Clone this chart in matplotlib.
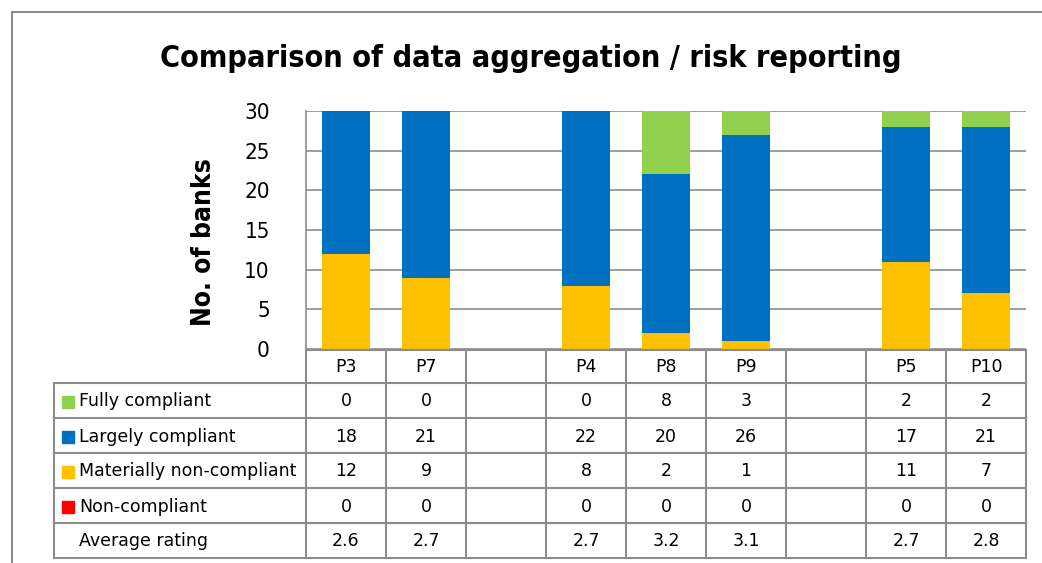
import numpy as np
import matplotlib.pyplot as plt
from matplotlib.lines import Line2D
from matplotlib.patches import Rectangle

# chart data (blank columns separate the groups)
categories = ["P3", "P7", "", "P4", "P8", "P9", "", "P5", "P10"]
fully = [0, 0, None, 0, 8, 3, None, 2, 2]
largely = [18, 21, None, 22, 20, 26, None, 17, 21]
materially = [12, 9, None, 8, 2, 1, None, 11, 7]
non_compliant = [0, 0, None, 0, 0, 0, None, 0, 0]
avg_rating = ["2.6", "2.7", "", "2.7", "3.2", "3.1", "", "2.7", "2.8"]

series_names = ["Fully compliant", "Largely compliant",
                "Materially non-compliant", "Non-compliant"]
colors = {"Fully compliant": "#92D050", "Largely compliant": "#0070C0",
          "Materially non-compliant": "#FFC000", "Non-compliant": "#FF0000"}

narrow = dict(family="DejaVu Sans", stretch="condensed")
grid_c = "#8c8c8c"

W, H = 1042, 563
fig = plt.figure(figsize=(W / 100, H / 100), dpi=100)


def fx(px):
    return px / W


def fy(py):
    return 1 - py / H


# outer chart frame
fig.add_artist(Line2D([fx(12), 1], [fy(12), fy(12)], color=grid_c, lw=1.5))
fig.add_artist(Line2D([fx(12), fx(12)], [fy(12), 0], color=grid_c, lw=1.5))

# plot area
x0, x1, ytop, ybot = 306, 1026, 111, 349
ax = fig.add_axes([fx(x0), fy(ybot), fx(x1 - x0), (ybot - ytop) / H])

vals = {
    "Non-compliant": non_compliant,
    "Materially non-compliant": materially,
    "Largely compliant": largely,
    "Fully compliant": fully,
}
xs = np.arange(len(categories))
bottom = np.zeros(len(categories))
for name in ["Non-compliant", "Materially non-compliant", "Largely compliant", "Fully compliant"]:
    v = np.array([np.nan if a is None else a for a in vals[name]], dtype=float)
    ax.bar(xs, np.nan_to_num(v), width=0.6, bottom=bottom, color=colors[name], zorder=2)
    bottom += np.nan_to_num(v)

ax.set_xlim(-0.5, len(categories) - 0.5)
ax.set_ylim(0, 30)
ax.set_yticks(range(0, 31, 5))
ax.yaxis.grid(True, color=grid_c, lw=1.2)
ax.set_axisbelow(True)
ax.tick_params(axis="y", length=0, pad=26, labelsize=16)
for lab in ax.get_yticklabels():
    lab.set_family(narrow["family"])
    lab.set_stretch(narrow["stretch"])
ax.set_xticks([])
for s in ["top", "right", "bottom"]:
    ax.spines[s].set_visible(False)
ax.spines["left"].set_color(grid_c)
ax.spines["left"].set_linewidth(1.2)

fig.text(fx(531), fy(67), "Comparison of data aggregation / risk reporting",
         ha="center", va="baseline", fontsize=22, fontweight="bold", **narrow)
fig.text(fx(204), fy(242), "No. of banks", rotation=90, ha="center", va="center",
         fontsize=19, fontweight="bold", **narrow)

# data table below the plot
tab = fig.add_axes([0, 0, 1, 1], facecolor="none")
tab.set_xlim(0, W)
tab.set_ylim(H, 0)
tab.axis("off")

col_w = (x1 - x0) / len(categories)
left = 54
row_edges = [383, 418, 453, 488, 523, 558]
lc = dict(color=grid_c, lw=1.5)

# header row (category names)
tab.plot([x0, x1], [ybot + 1, ybot + 1], **lc)
for i in range(len(categories) + 1):
    xe = x0 + i * col_w
    tab.plot([xe, xe], [ybot + 1, row_edges[-1]], **lc)
for i, c in enumerate(categories):
    tab.text(x0 + (i + 0.5) * col_w, (ybot + row_edges[0]) / 2 + 1, c,
             ha="center", va="center", fontsize=12.5)

for ye in row_edges:
    tab.plot([left, x1], [ye, ye], **lc)
tab.plot([left, left], [row_edges[0], row_edges[-1]], **lc)

row_labels = series_names + ["Average rating"]
row_vals = [fully, largely, materially, non_compliant, avg_rating]
for r, (lab, rv) in enumerate(zip(row_labels, row_vals)):
    yc = (row_edges[r] + row_edges[r + 1]) / 2 + 1
    if lab in colors:
        tab.add_patch(Rectangle((62, yc - 6), 12, 12, color=colors[lab]))
    tab.text(79, yc, lab, ha="left", va="center", fontsize=12.5)
    for i, v in enumerate(rv):
        txt = "" if v is None else str(v)
        tab.text(x0 + (i + 0.5) * col_w, yc, txt, ha="center", va="center", fontsize=12.5)

fig.savefig("out.png", dpi=100)
